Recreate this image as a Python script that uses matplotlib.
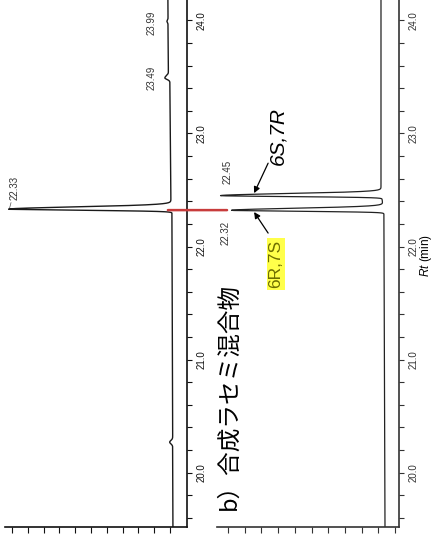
# ______________________________________________________________________________
#
# Chromatogrammes GC (trace tournee de 90 degres) :
# a) echantillon naturel, b) melange racemique de synthese
#
# ______________________________________________________________________________

import numpy as np
import matplotlib
matplotlib.use("Agg")
import matplotlib.pyplot as plt
from matplotlib import font_manager
from matplotlib.ticker import FormatStrFormatter, MultipleLocator
from matplotlib.patches import ConnectionPatch

# ______________________________________________________________________________
# Les donnees

# Trace a (panneau de gauche) : temps de retention, hauteurs, largeurs avant/arriere
rt_a = [20.27, 22.33, 23.49, 23.99]
height_a = [1.9, 103.2, 2.8, 0.7]
sig_front_a = [0.015, 0.009, 0.012, 0.010]
sig_tail_a = [0.015, 0.020, 0.020, 0.010]
# derive de la ligne de base
drift_t_a = [19.5, 22.30, 22.40, 23.45, 23.55, 24.2]
drift_v_a = [-1.9, -1.3, -0.6, 0.0, 1.0, 1.3]

# Trace b (panneau de droite) : melange 6R,7S / 6S,7R
rt_b = [22.32, 22.45]
height_b = [91.0, 96.5]
sig_front_b = [0.008, 0.008]
sig_tail_b = [0.018, 0.018]
drift_t_b = [19.5, 22.28, 22.50, 24.2]
drift_v_b = [6.0, 6.6, 8.4, 8.4]

rt_ticks = [20.0, 21.0, 22.0, 23.0, 24.0]
intensity_ticks = list(range(0, 101, 10))

title_b = "b）合成ラセミ混合物"
isomer_1 = "6S,7R"
isomer_2 = "6R,7S"

# ______________________________________________________________________________
# RCParams

names = {f.name for f in font_manager.fontManager.ttflist}
narrow = "Liberation Sans Narrow" in names
num_font = "Liberation Sans Narrow" if narrow else "Liberation Sans"
num_size = 8 if narrow else 7

plt.rcParams["figure.facecolor"] = "w"
plt.rcParams["font.family"] = ["Liberation Sans", "DejaVu Sans"]
plt.rcParams["mathtext.fontset"] = "custom"
plt.rcParams["mathtext.rm"] = "Liberation Sans"
plt.rcParams["mathtext.it"] = "Liberation Sans:italic"

t = np.linspace(19.5, 24.2, 8000)


def trace(rts, heights, sf, st, dt, dv):
    y = np.interp(t, dt, dv)
    for r, h, s1, s2 in zip(rts, heights, sf, st):
        s = np.where(t < r, s1, s2)
        y = y + h * np.exp(-0.5 * ((t - r) / s) ** 2)
    return y


def setup(ax, xlim, color):
    ax.set_xlim(*xlim)
    ax.set_ylim(19.52, 24.18)
    for side in ("top", "left"):
        ax.spines[side].set_visible(False)
    for side in ("bottom", "right"):
        ax.spines[side].set_linewidth(1.2)
        ax.spines[side].set_color(color)
    ax.yaxis.tick_right()
    ax.set_yticks(rt_ticks)
    ax.yaxis.set_minor_locator(MultipleLocator(0.2))
    ax.yaxis.set_major_formatter(FormatStrFormatter("%.1f"))
    ax.tick_params(axis="y", which="both", direction="out", length=3.6,
                   width=0.8, colors=color, pad=3, labelsize=num_size)
    ax.set_xticks(intensity_ticks)
    ax.tick_params(axis="x", direction="out", length=4.3, width=0.8,
                   colors=color, labelbottom=False)
    for lab in ax.get_yticklabels():
        lab.set_rotation(90)
        lab.set_va("center")
        lab.set_fontfamily(num_font)


# ______________________________________________________________________________
# Figure

fig = plt.figure(figsize=(4.35, 5.39), dpi=100)
ax_a = fig.add_axes([0.0115, 0.0223, 0.4184, 0.9777])
ax_b = fig.add_axes([0.4989, 0.0223, 0.4184, 0.9777])

setup(ax_a, (104.4, -10.8), "#111111")
setup(ax_b, (106.6, -2.4), "#333333")

y_a = trace(rt_a, height_a, sig_front_a, sig_tail_a, drift_t_a, drift_v_a)
y_b = trace(rt_b, height_b, sig_front_b, sig_tail_b, drift_t_b, drift_v_b)

ax_a.plot(y_a, t, color="#1a1a1a", lw=1.0)
ax_b.plot(y_b, t, color="#222222", lw=0.9)

# etiquettes des pics
lab_kw = dict(rotation=90, ha="center", va="center", fontsize=num_size,
              family=num_font, color="#333333")
ax_a.annotate("22.33", xy=(101.5, 22.34), xytext=(98.1, 22.52),
              arrowprops=dict(arrowstyle="-", lw=0.5, color="#555555",
                              shrinkA=6, shrinkB=0), **lab_kw)
ax_a.text(11.4, 23.488, "23.49", **lab_kw)
ax_a.text(11.4, 23.98, "23.99", **lab_kw)
ax_b.text(100.0, 22.658, "22.45", **lab_kw)
ax_b.text(101.2, 22.12, "22.32", **lab_kw)

# annotations des isomeres
ax_b.text(70.1, 22.976, isomer_1, rotation=90, ha="center", va="center",
          style="italic", family=num_font, fontsize=17 if narrow else 15)
ax_b.text(71.3, 21.845, isomer_2, rotation=90, ha="center", va="center",
          fontsize=12.5, color="#6e6e00",
          bbox=dict(boxstyle="square,pad=0.1", fc="#ffff4a", ec="none"))

arrow_kw = dict(arrowstyle="-|>", lw=0.9, color="k", mutation_scale=9,
                shrinkA=0, shrinkB=0)
ax_b.annotate("", xy=(84.4, 22.472), xytext=(76.0, 22.737),
              arrowprops=arrow_kw)
ax_b.annotate("", xy=(84.4, 22.305), xytext=(76.0, 22.119),
              arrowprops=arrow_kw)

ax_b.text(99.4, 19.673, title_b, rotation=90, ha="center", va="bottom",
          fontsize=17, family=["Noto Sans CJK JP", "DejaVu Sans"])

fig.text(426 / 435, 1 - 255 / 539, r"$Rt$ (min)", rotation=90,
         ha="center", va="center", fontsize=8.5)

# trait rouge reliant les deux pics a 22.32 min
con = ConnectionPatch(xyA=(1.3, 22.322), coordsA=ax_a.transData,
                      xyB=(100.6, 22.322), coordsB=ax_b.transData,
                      color="#c83c3c", lw=1.8)
fig.add_artist(con)

fig.savefig("out.png", dpi=100)
